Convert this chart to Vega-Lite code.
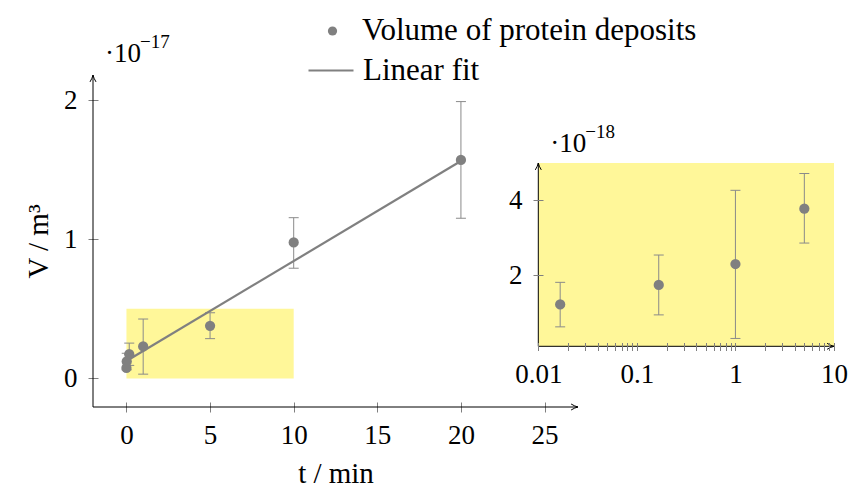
{
  "$schema": "https://vega.github.io/schema/vega-lite/v6.json",
  "width": 485,
  "height": 332,
  "autosize": {"type": "none"},
  "padding": {"left": 93, "top": 75, "right": 272, "bottom": 80},
  "config": {
    "view": {"stroke": null},
    "font": "Liberation Serif",
    "axis": {"grid": false, "domain": false, "labelFontSize": 27, "labelColor": "black", "labelFont": "Liberation Serif", "tickColor": "#7f7f7f", "tickWidth": 1, "titleFontSize": 29, "titleFontWeight": "normal", "titleColor": "black", "titleFont": "Liberation Serif", "labelFlush": false},
    "legend": {"labelFont": "Liberation Serif", "labelFontSize": 31, "labelColor": "black", "padding": 0, "labelLimit": 600}
  },
  "datasets": {
    "obs": [
      {"t": 0, "V": 0.76, "lo": null, "hi": null},
      {"t": 0.01667, "V": 1.22, "lo": 0.62, "hi": 1.81},
      {"t": 0.1667, "V": 1.74, "lo": 0.94, "hi": 2.54},
      {"t": 1, "V": 2.30, "lo": 0.31, "hi": 4.27},
      {"t": 5, "V": 3.78, "lo": 2.86, "hi": 4.72},
      {"t": 10, "V": 9.77, "lo": 7.92, "hi": 11.55},
      {"t": 20, "V": 15.7, "lo": 11.51, "hi": 19.89}
    ],
    "fit": [
      {"t": 0, "V": 1.25},
      {"t": 20, "V": 15.62}
    ]
  },
  "layer": [
    {
      "layer": [
        {
          "data": {"values": [{}]},
          "mark": {"type": "rect", "color": "#fff799"},
          "encoding": {
            "x": {"datum": 0, "type": "quantitative"},
            "x2": {"datum": 10},
            "y": {"datum": 0, "type": "quantitative"},
            "y2": {"datum": 5}
          }
        },
        {
          "data": {"values": [{}]},
          "mark": {"type": "rule", "color": "black", "strokeWidth": 1},
          "encoding": {
            "x": {"datum": -2, "type": "quantitative"},
            "x2": {"datum": 27},
            "y": {"datum": -2.05, "type": "quantitative"}
          }
        },
        {
          "data": {"values": [{}]},
          "mark": {"type": "rule", "color": "black", "strokeWidth": 1},
          "encoding": {
            "x": {"datum": -2, "type": "quantitative"},
            "y": {"datum": -2.05, "type": "quantitative"},
            "y2": {"datum": 21.8}
          }
        },
        {
          "data": {"values": [{}]},
          "mark": {"type": "point", "shape": "M-2.3,-1Q-1,-0.2,0,0Q-1,0.2,-2.3,1", "filled": false, "stroke": "black", "strokeWidth": 1, "size": 36, "opacity": 1},
          "encoding": {
            "x": {"datum": 27, "type": "quantitative"},
            "y": {"datum": -2.05, "type": "quantitative"}
          }
        },
        {
          "data": {"values": [{}]},
          "mark": {"type": "point", "shape": "M-2.3,-1Q-1,-0.2,0,0Q-1,0.2,-2.3,1", "filled": false, "stroke": "black", "strokeWidth": 1, "size": 36, "opacity": 1, "angle": -90},
          "encoding": {
            "x": {"datum": -2, "type": "quantitative"},
            "y": {"datum": 21.8, "type": "quantitative"}
          }
        },
        {
          "data": {"name": "obs"},
          "transform": [{"filter": "datum.lo != null"}],
          "mark": {"type": "rule", "color": "#8a8a8a", "strokeWidth": 1},
          "encoding": {
            "x": {"field": "t", "type": "quantitative"},
            "y": {"field": "lo", "type": "quantitative"},
            "y2": {"field": "hi"}
          }
        },
        {
          "data": {"name": "obs"},
          "transform": [{"filter": "datum.lo != null"}],
          "mark": {"type": "tick", "orient": "horizontal", "color": "#8a8a8a", "size": 10, "thickness": 1, "opacity": 1},
          "encoding": {
            "x": {"field": "t", "type": "quantitative"},
            "y": {"field": "lo", "type": "quantitative"}
          }
        },
        {
          "data": {"name": "obs"},
          "transform": [{"filter": "datum.lo != null"}],
          "mark": {"type": "tick", "orient": "horizontal", "color": "#8a8a8a", "size": 10, "thickness": 1, "opacity": 1},
          "encoding": {
            "x": {"field": "t", "type": "quantitative"},
            "y": {"field": "hi", "type": "quantitative"}
          }
        },
        {
          "data": {"name": "fit"},
          "mark": {"type": "line", "strokeWidth": 2.2},
          "encoding": {
            "x": {"field": "t", "type": "quantitative"},
            "y": {"field": "V", "type": "quantitative"},
            "stroke": {
              "datum": "Linear fit", "type": "nominal",
              "scale": {"range": ["#808080"]},
              "legend": {"orient": "none", "legendX": 214, "legendY": -28.5, "title": null, "symbolType": "stroke", "symbolSize": 2025, "symbolStrokeWidth": 2.2, "labelOffset": 8}
            }
          }
        },
        {
          "data": {"name": "obs"},
          "mark": {"type": "point", "filled": true, "size": 105, "opacity": 1},
          "encoding": {
            "x": {
              "field": "t", "type": "quantitative",
              "scale": {"domain": [-2, 27], "nice": false, "zero": false},
              "axis": {"orient": "bottom", "values": [0, 5, 10, 15, 20, 25], "offset": -5, "tickSize": 10, "labelPadding": 10, "title": "t / min", "titlePadding": 11}
            },
            "y": {
              "field": "V", "type": "quantitative",
              "scale": {"domain": [-2.05, 21.8], "nice": false, "zero": false},
              "axis": {"orient": "left", "values": [0, 10, 20], "labelExpr": "'' + (datum.value / 10)", "offset": -5, "tickSize": 10, "labelPadding": 11, "title": "V / m³", "titlePadding": 10}
            },
            "fill": {
              "datum": "Volume of protein deposits", "type": "nominal",
              "scale": {"range": ["#808080"]},
              "legend": {"orient": "none", "legendX": 224, "legendY": -59.5, "title": null, "symbolType": "circle", "symbolSize": 85, "labelOffset": 14}
            }
          }
        },
        {
          "data": {"values": [{}]},
          "mark": {"type": "text", "text": "·10", "align": "left", "baseline": "alphabetic", "fontSize": 27, "dx": 12, "dy": -13, "color": "black"},
          "encoding": {
            "x": {"datum": -2, "type": "quantitative"},
            "y": {"datum": 21.8, "type": "quantitative"}
          }
        },
        {
          "data": {"values": [{}]},
          "mark": {"type": "text", "text": "−17", "align": "left", "baseline": "alphabetic", "fontSize": 19, "dx": 47, "dy": -27, "color": "black"},
          "encoding": {
            "x": {"datum": -2, "type": "quantitative"},
            "y": {"datum": 21.8, "type": "quantitative"}
          }
        }
      ]
    },
    {
      "layer": [
        {
          "data": {"values": [{}]},
          "mark": {"type": "rect", "color": "#fff799"},
          "encoding": {
            "x": {"datum": 0.01, "type": "quantitative", "scale": {"type": "log", "domain": [0.01, 10], "range": [445.3, 741]}},
            "x2": {"datum": 10},
            "y": {"datum": 0.1, "type": "quantitative", "scale": {"domain": [0.1, 5], "nice": false, "zero": false, "range": [271.3, 88]}},
            "y2": {"datum": 5}
          }
        },
        {
          "data": {"values": [{}]},
          "mark": {"type": "rule", "color": "black", "strokeWidth": 1},
          "encoding": {
            "x": {"datum": 0.01, "type": "quantitative", "scale": {"type": "log"}},
            "x2": {"datum": 10},
            "y": {"datum": 0.1, "type": "quantitative"}
          }
        },
        {
          "data": {"values": [{}]},
          "mark": {"type": "rule", "color": "black", "strokeWidth": 1},
          "encoding": {
            "x": {"datum": 0.01, "type": "quantitative", "scale": {"type": "log"}},
            "y": {"datum": 0.1, "type": "quantitative"},
            "y2": {"datum": 5}
          }
        },
        {
          "data": {"values": [{}]},
          "mark": {"type": "point", "shape": "M-2.3,-1Q-1,-0.2,0,0Q-1,0.2,-2.3,1", "filled": false, "stroke": "black", "strokeWidth": 1, "size": 36, "opacity": 1},
          "encoding": {
            "x": {"datum": 10, "type": "quantitative", "scale": {"type": "log"}},
            "y": {"datum": 0.1, "type": "quantitative"}
          }
        },
        {
          "data": {"values": [{}]},
          "mark": {"type": "point", "shape": "M-2.3,-1Q-1,-0.2,0,0Q-1,0.2,-2.3,1", "filled": false, "stroke": "black", "strokeWidth": 1, "size": 36, "opacity": 1, "angle": -90},
          "encoding": {
            "x": {"datum": 0.01, "type": "quantitative", "scale": {"type": "log"}},
            "y": {"datum": 5, "type": "quantitative"}
          }
        },
        {
          "data": {"name": "obs"},
          "transform": [{"filter": "datum.t > 0 && datum.t < 10"}],
          "mark": {"type": "rule", "color": "#8a8a8a", "strokeWidth": 1},
          "encoding": {
            "x": {"field": "t", "type": "quantitative", "scale": {"type": "log"}},
            "y": {"field": "lo", "type": "quantitative"},
            "y2": {"field": "hi"}
          }
        },
        {
          "data": {"name": "obs"},
          "transform": [{"filter": "datum.t > 0 && datum.t < 10"}],
          "mark": {"type": "tick", "orient": "horizontal", "color": "#8a8a8a", "size": 10, "thickness": 1, "opacity": 1},
          "encoding": {
            "x": {"field": "t", "type": "quantitative", "scale": {"type": "log"}},
            "y": {"field": "lo", "type": "quantitative"}
          }
        },
        {
          "data": {"name": "obs"},
          "transform": [{"filter": "datum.t > 0 && datum.t < 10"}],
          "mark": {"type": "tick", "orient": "horizontal", "color": "#8a8a8a", "size": 10, "thickness": 1, "opacity": 1},
          "encoding": {
            "x": {"field": "t", "type": "quantitative", "scale": {"type": "log"}},
            "y": {"field": "hi", "type": "quantitative"}
          }
        },
        {
          "data": {"name": "obs"},
          "transform": [{"filter": "datum.t > 0 && datum.t < 10"}],
          "mark": {"type": "point", "filled": true, "size": 105, "opacity": 1, "color": "#808080"},
          "encoding": {
            "x": {
              "field": "t", "type": "quantitative", "scale": {"type": "log"},
              "axis": {"orient": "bottom", "zindex": 1, "values": [0.01, 0.02, 0.03, 0.04, 0.05, 0.06, 0.07, 0.08, 0.09, 0.1, 0.2, 0.3, 0.4, 0.5, 0.6, 0.7, 0.8, 0.9, 1, 2, 3, 4, 5, 6, 7, 8, 9, 10], "labelExpr": "datum.value == 0.01 ? '0.01' : datum.value == 0.1 ? '0.1' : datum.value == 1 ? '1' : datum.value == 10 ? '10' : ''", "labelOverlap": false, "offset": -64.5, "tickSize": 8, "labelPadding": 11, "title": null}
            },
            "y": {
              "field": "V", "type": "quantitative",
              "axis": {"orient": "left", "zindex": 1, "values": [2, 4], "format": "d", "offset": -450, "tickSize": 10, "labelPadding": 11, "title": null}
            }
          }
        },
        {
          "data": {"values": [{}]},
          "mark": {"type": "text", "text": "·10", "align": "left", "baseline": "alphabetic", "fontSize": 27, "dx": 12, "dy": -11, "color": "black"},
          "encoding": {
            "x": {"datum": 0.01, "type": "quantitative", "scale": {"type": "log"}},
            "y": {"datum": 5, "type": "quantitative"}
          }
        },
        {
          "data": {"values": [{}]},
          "mark": {"type": "text", "text": "−18", "align": "left", "baseline": "alphabetic", "fontSize": 19, "dx": 47, "dy": -25, "color": "black"},
          "encoding": {
            "x": {"datum": 0.01, "type": "quantitative", "scale": {"type": "log"}},
            "y": {"datum": 5, "type": "quantitative"}
          }
        }
      ]
    }
  ],
  "resolve": {"scale": {"x": "independent", "y": "independent"}}
}
